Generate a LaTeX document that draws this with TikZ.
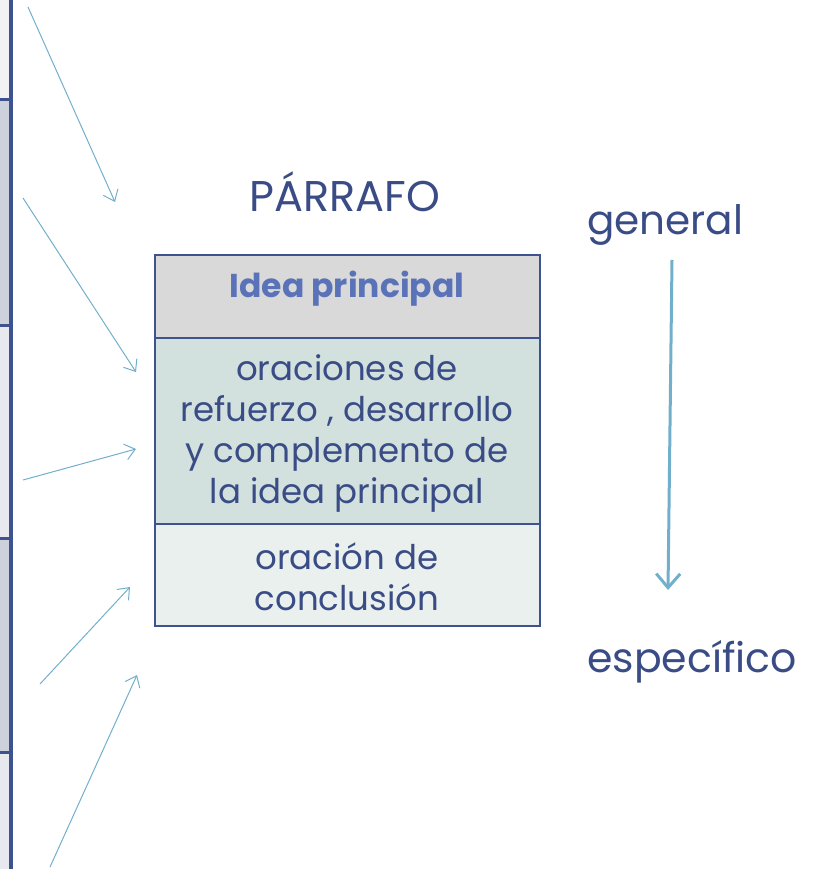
\documentclass[tikz,border=0pt]{standalone}
\usepackage{fontspec}
\setmainfont{Poppins}
\usetikzlibrary{arrows.meta}
\definecolor{tx}{HTML}{3A4C85}
\definecolor{bd}{HTML}{3F5290}
\definecolor{ar}{HTML}{72AFCB}
\definecolor{hd}{HTML}{5A72B8}
\definecolor{fA}{HTML}{D9D9D9}
\definecolor{fB}{HTML}{D2E0DE}
\definecolor{fC}{HTML}{E9F0EE}
\definecolor{sA}{HTML}{F2F2F2}
\definecolor{sB}{HTML}{CDD1DC}
\definecolor{sC}{HTML}{E8E9EE}
\tikzset{
  cell/.style={draw=bd, line width=2pt, minimum width=385pt, inner sep=0pt, anchor=north west},
  celltext/.style={align=center, text=tx, inner sep=0pt, font=\fontsize{34}{41}\selectfont},
  thinarrow/.style={draw=ar, line width=1pt, -{Straight Barb[length=10pt,width=16pt,line width=1pt]}},
  label/.style={text=tx, inner sep=0pt}
}
\begin{document}
\begin{tikzpicture}[x=1pt,y=-1pt]
\useasboundingbox (0,0) rectangle (821,869);
% left strip
\fill[sA] (0,0) rectangle (11,100);
\fill[sB] (0,100) rectangle (11,325);
\fill[sC] (0,325) rectangle (11,538);
\fill[sB] (0,538) rectangle (11,752);
\fill[sC] (0,752) rectangle (11,869);
\draw[bd, line width=3.5pt] (11,0) -- (11,869);
\foreach \yy in {100,325,538,752} \draw[bd, line width=3pt] (0,\yy) -- (11,\yy);
% title
\node[label, font=\fontsize{43}{48}\selectfont] (title) at (345,192) {PÁRRAFO};
% box
\node[cell, fill=fA, minimum height=83pt] (top) at (154,254) {};
\node[cell, fill=fB, minimum height=186pt] (mid) at (154,337) {};
\node[cell, fill=fC, minimum height=102pt] (bot) at (154,523) {};
\node[text=hd, inner sep=0pt, font=\fontsize{33}{38}\selectfont\bfseries] (toptext) at (347,289) {Idea principal};
\node[celltext] (midtext) at (347,433) {oraciones de\\refuerzo , desarrollo\\y complemento de\\la idea principal};
\node[celltext] (bottext) at (347,577) {oración de\\conclusión};
% right labels
\node[label, font=\fontsize{40.5}{46}\selectfont] (gen) at (665,225) {general};
\node[label, font=\fontsize{41}{46}\selectfont] (esp) at (692,662) {específico};
\coordinate (vs) at (672,260);
\coordinate (ve) at (668,590);
\draw[draw=ar, line width=3pt, -{Straight Barb[length=14pt,width=24pt,line width=3pt]}] (vs) -- (ve);
% thin arrows
\coordinate (a1s) at (28,7);   \coordinate (a1e) at (115,202);
\coordinate (a2s) at (23,198); \coordinate (a2e) at (136,372);
\coordinate (a3s) at (23,480); \coordinate (a3e) at (136,449);
\coordinate (a4s) at (40,684); \coordinate (a4e) at (130,587);
\coordinate (a5s) at (50,867); \coordinate (a5e) at (137,675);
\foreach \i in {1,...,5} \draw[thinarrow] (a\i s) -- (a\i e);
\end{tikzpicture}
\end{document}
